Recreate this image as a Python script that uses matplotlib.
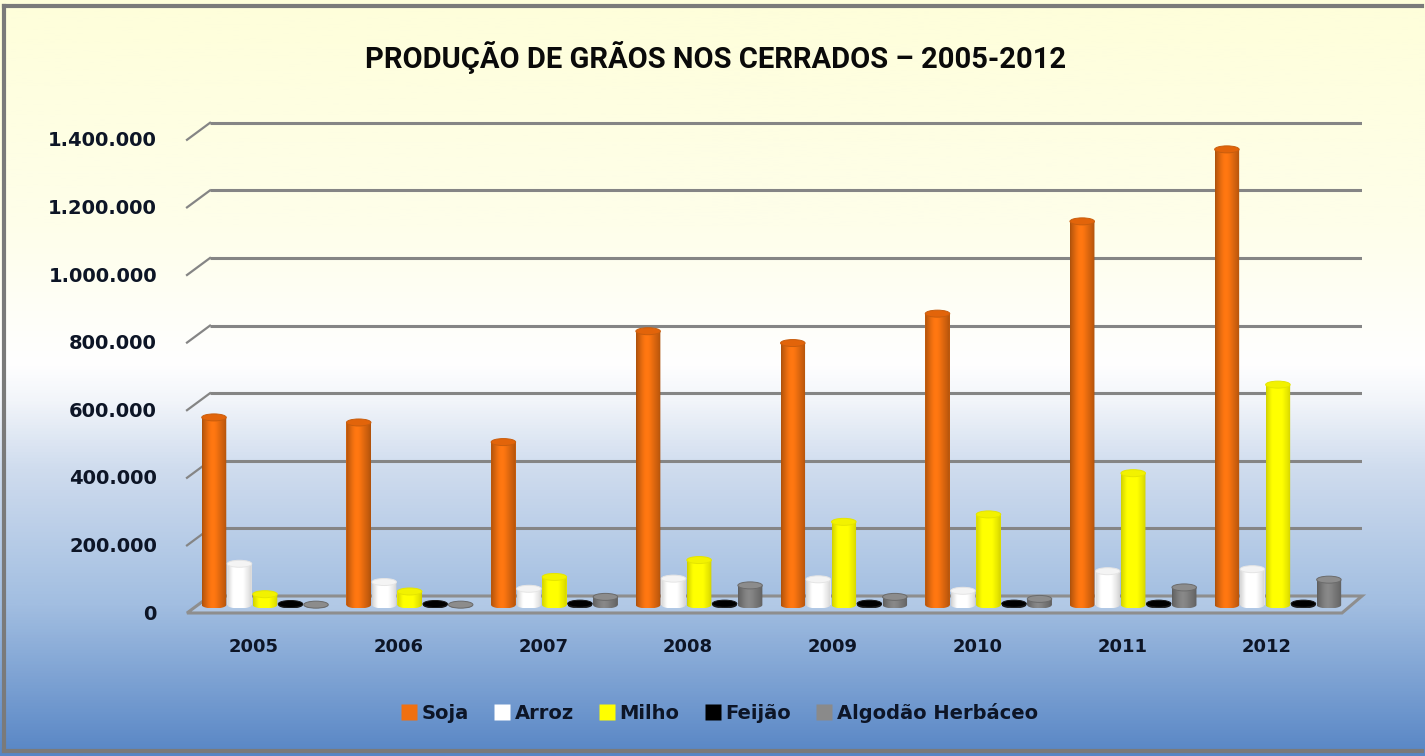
import numpy as np
import matplotlib
matplotlib.use("Agg")
import matplotlib.pyplot as plt
from matplotlib.colors import to_rgb, LinearSegmentedColormap
from matplotlib.patches import Ellipse, Polygon
from matplotlib.lines import Line2D
from matplotlib.transforms import ScaledTranslation, blended_transform_factory

# ---------------- data ----------------
years = ["2005", "2006", "2007", "2008", "2009", "2010", "2011", "2012"]
series_names = ["Soja", "Arroz", "Milho", "Feijão", "Algodão Herbáceo"]
soja = [555000, 540000, 482000, 810000, 775000, 862000, 1135000, 1348000]
arroz = [122000, 68000, 48000, 78000, 76000, 42000, 100000, 106000]
milho = [32000, 40000, 83000, 133000, 246000, 268000, 390000, 652000]
feijao = [3000, 3000, 4000, 4000, 4000, 4000, 4000, 4000]
algodao = [1000, 1000, 24000, 58000, 24000, 18000, 52000, 75000]
yticks = [0, 200000, 400000, 600000, 800000, 1000000, 1200000, 1400000]
ytick_labels = ["0", "200.000", "400.000", "600.000", "800.000",
                "1.000.000", "1.200.000", "1.400.000"]
title = "PRODUÇÃO DE GRÃOS NOS CERRADOS – 2005-2012"

series_values = [soja, arroz, milho, feijao, algodao]
base_colors = ["#F07010", "#FFFFFF", "#FFFF00", "#050505", "#7F7F7F"]
legend_colors = ["#F07010", "#FFFFFF", "#FFFF00", "#000000", "#8A8A8A"]
edge_factor = [0.70, 0.80, 0.80, 1.0, 0.72]
cap_colors = ["#E2640A", "#F4F4F4", "#F2F200", "#000000", "#8C8C8C"]

W, H, DPI = 1425, 756, 100
fig = plt.figure(figsize=(W / DPI, H / DPI), dpi=DPI)

# ---------------- background ----------------
bg = fig.add_axes([0, 0, 1, 1], zorder=-10)
bg.set_axis_off()
stops = [(0.0, "#FEFEDA"), (0.30, "#FEFEEA"), (0.48, "#FFFFFF"),
         (0.53, "#F2F5FA"), (0.62, "#CFDCEE"), (0.80, "#A2BEE1"),
         (1.0, "#5886C5")]
cmap_bg = LinearSegmentedColormap.from_list("bg", stops)
grad = np.linspace(0, 1, 512).reshape(-1, 1)
bg.imshow(grad, cmap=cmap_bg, aspect="auto", extent=(0, 1, 0, 1), origin="upper")
bg.set_xlim(0, 1)
bg.set_ylim(0, 1)
bg.plot([0.003, 0.003], [0.006, 0.992], color="#7A7A7A", lw=3, transform=bg.transAxes)
bg.plot([0.003, 0.998], [0.992, 0.992], color="#7A7A7A", lw=3, transform=bg.transAxes)
bg.plot([0.003, 0.998], [0.006, 0.006], color="#7A7A7A", lw=3, transform=bg.transAxes)

# ---------------- main axes (pixel layout) ----------------
ax_left_px, ax_right_px = 182, 1362
ax_top_px, ax_bot_px = 120, 613
base_px = 605
px_per_unit_y = 33.8 / 100000.0
g0_px, gstep_px = 265, 144.7

ax = fig.add_axes([ax_left_px / W, (H - ax_bot_px) / H,
                   (ax_right_px - ax_left_px) / W, (ax_bot_px - ax_top_px) / H])
ax.patch.set_alpha(0)
for s in ax.spines.values():
    s.set_visible(False)

xlo = -(g0_px - ax_left_px) / gstep_px
xhi = (ax_right_px - g0_px) / gstep_px
ylo = -(ax_bot_px - base_px) / px_per_unit_y
yhi = (base_px - ax_top_px) / px_per_unit_y
ax.set_xlim(xlo, xhi)
ax.set_ylim(ylo, yhi)

def off(dx_px, dy_px):
    return ScaledTranslation(dx_px / DPI, dy_px / DPI, fig.dpi_scale_trans)

bx = blended_transform_factory(ax.transAxes, ax.transData)
span = ax_right_px - ax_left_px
back_x0 = (210 - ax_left_px) / span
front_x0 = (187 - ax_left_px) / span
front_x1 = (1342 - ax_left_px) / span
for v in yticks[1:]:
    ax.plot([back_x0, 1.0], [v, v], color="#858585", lw=2.2,
            transform=bx + off(0, 9), zorder=1, solid_capstyle="butt")
    p_front = (bx + off(0, -8)).transform((front_x0, v))
    p_back = (bx + off(0, 9)).transform((back_x0, v))
    ax.add_line(Line2D([p_front[0] / W, p_back[0] / W],
                       [p_front[1] / H, p_back[1] / H],
                       transform=fig.transFigure, color="#858585", lw=1.6,
                       zorder=1, clip_on=False))

# floor
pts = []
for fx, dy in [(front_x0, -8), (back_x0, 9), (1.0, 9), (front_x1, -8)]:
    p = (bx + off(0, dy)).transform((fx, 0))
    pts.append((p[0] / W, p[1] / H))
ax.add_patch(Polygon(pts, closed=True, transform=fig.transFigure, clip_on=False,
                     facecolor=(1, 1, 1, 0.18), edgecolor="#8E8E8E", lw=2.2, zorder=2))

# ---------------- cylinders ----------------
x = np.arange(len(years))
bw_step = 25.5 / gstep_px
bw = 24.5 / gstep_px
ell_h = 7.0 / px_per_unit_y

t = np.linspace(0, 1, 64)
profile = np.clip(np.sin(np.pi * t) ** 0.6, 0, 1)
profile = profile * (0.6 + 0.4 * np.exp(-((t - 0.4) ** 2) / 0.08))
arc = np.linspace(np.pi, 2 * np.pi, 40)

for j, (vals, col) in enumerate(zip(series_values, base_colors)):
    xs = x + (j - 2) * bw_step
    bars = ax.bar(xs, vals, width=bw, color=col, zorder=5, linewidth=0)
    rgb = np.array(to_rgb(col))
    ef = edge_factor[j]
    if col == "#050505":
        shade = np.array([np.clip(rgb * 0 + 0.02 + 0.22 * p, 0, 1) for p in profile])
    else:
        shade = np.array([np.clip(rgb * (ef + (1.08 - ef) * p), 0, 1) for p in profile])
    img = shade.reshape(1, -1, 3)
    for b, v, xc in zip(bars, vals, xs):
        x0 = b.get_x()
        ex = xc + (bw / 2) * np.cos(arc)
        ey = (ell_h / 2) * np.sin(arc)
        outline = np.vstack([[x0, v], [x0, 0], np.column_stack([ex, ey]),
                             [x0 + bw, 0], [x0 + bw, v]])
        clip = Polygon(outline, closed=True, transform=ax.transData)
        im = ax.imshow(img, extent=(x0, x0 + bw, -ell_h / 2, v), aspect="auto",
                       zorder=5.5, interpolation="bilinear")
        im.set_clip_path(clip)
        ax.add_patch(Ellipse((xc, v), bw, ell_h, facecolor=cap_colors[j],
                             edgecolor=shade[6], lw=0.7, zorder=6))

ax.set_xlim(xlo, xhi)
ax.set_ylim(ylo, yhi)

# ---------------- ticks ----------------
ax.set_yticks(yticks)
ax.set_yticklabels(ytick_labels)
ax.tick_params(axis="y", length=0, pad=18, labelsize=14, labelcolor="#0D1526")
for lab in ax.get_yticklabels():
    lab.set_fontweight("bold")
    lab.set_transform(lab.get_transform() + off(0, -7))

ax.set_xticks(x)
ax.set_xticklabels(years)
ax.tick_params(axis="x", length=0, pad=18, labelsize=13, labelcolor="#0D1526")
for lab in ax.get_xticklabels():
    lab.set_fontweight("bold")
    lab.set_transform(lab.get_transform() + off(-11, 0))

# ---------------- title ----------------
fig.text(716 / W, 1 - 58 / H, title, ha="center", va="center",
         fontsize=21, fontweight="bold", color="#0A0A0A",
         family=["Roboto", "DejaVu Sans"])

# ---------------- legend ----------------
handles = [Line2D([], [], marker="s", linestyle="none", markersize=11,
                  markerfacecolor=c, markeredgecolor="none") for c in legend_colors]
leg = fig.legend(handles, series_names, loc="center", ncol=5,
                 bbox_to_anchor=(720 / W, 1 - 713 / H), frameon=False,
                 handlelength=0.7, handletextpad=0.3, columnspacing=1.35,
                 prop={"size": 14, "weight": "bold"})
for txt in leg.get_texts():
    txt.set_color("#0D1526")

fig.savefig("out.png", dpi=DPI)
